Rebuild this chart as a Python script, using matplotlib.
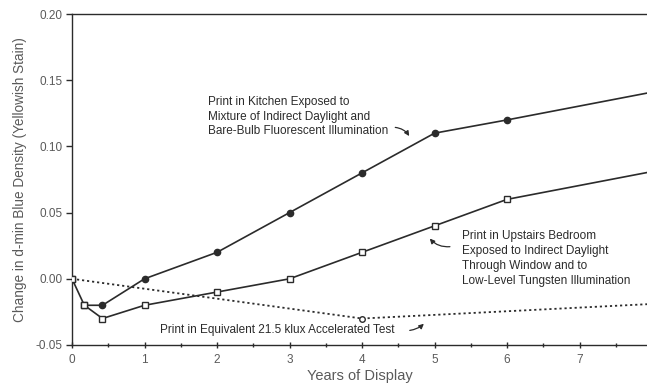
import matplotlib
matplotlib.use("Agg")
import matplotlib.pyplot as plt
from matplotlib.ticker import MultipleLocator

plt.rcParams['font.family'] = ['Liberation Sans', 'DejaVu Sans']

# Kitchen print (mixed daylight + bare-bulb fluorescent)
kitchen_years = [0.17, 0.42, 1, 2, 3, 4, 5, 6, 8]
kitchen_vals = [-0.02, -0.02, 0.00, 0.02, 0.05, 0.08, 0.11, 0.12, 0.141]

# Upstairs bedroom print (indirect daylight + low-level tungsten)
bedroom_years = [0, 0.17, 0.42, 1, 2, 3, 4, 5, 6, 8]
bedroom_vals = [0.00, -0.02, -0.03, -0.02, -0.01, 0.00, 0.02, 0.04, 0.06, 0.081]

# Accelerated 21.5 klux test equivalent
accel_years = [0, 4, 8]
accel_vals = [0.00, -0.03, -0.019]

x_ticks = [0, 1, 2, 3, 4, 5, 6, 7]
y_ticks = [-0.05, 0.00, 0.05, 0.10, 0.15, 0.20]

ink = '#2b2b2b'
txt = '#5a5a5a'

fig = plt.figure(figsize=(6.47, 3.85), dpi=100)
ax = fig.add_axes([0.1113, 0.1039, 0.8887, 0.8597])

ax.plot(accel_years, accel_vals, ls=(0, (1.2, 1.6)), lw=1.3, color=ink, zorder=2)
ax.plot([accel_years[1]], [accel_vals[1]], 'o', ms=4, mfc='white', mec=ink, mew=1.0, zorder=3)

ax.plot(bedroom_years, bedroom_vals, '-s', color=ink, lw=1.2, ms=5, mfc='white', mec=ink, mew=1.0, zorder=3)

ax.plot([bedroom_years[1]] + kitchen_years, [bedroom_vals[1]] + kitchen_vals, '-', color=ink, lw=1.2, zorder=3)
ax.plot(kitchen_years[1:], kitchen_vals[1:], 'o', color=ink, ms=4.5, zorder=4)
ax.plot([bedroom_years[0], bedroom_years[1]], [bedroom_vals[0], bedroom_vals[1]], 's', ms=5, mfc='white', mec=ink, mew=1.0, zorder=5)

ax.set_xlim(0, 7.93)
ax.set_ylim(-0.05, 0.20)
ax.set_xticks(x_ticks)
ax.set_yticks(y_ticks)
ax.set_yticklabels([f"{v:.2f}" for v in y_ticks])
ax.xaxis.set_minor_locator(MultipleLocator(0.5))

ax.spines['right'].set_visible(False)
for side in ['left', 'bottom', 'top']:
    ax.spines[side].set_color(ink)
    ax.spines[side].set_linewidth(1.0)

ax.tick_params(axis='x', which='major', direction='inout', length=5, width=1, colors=ink, labelcolor=txt, labelsize=8.5, pad=4)
ax.tick_params(axis='x', which='minor', direction='inout', length=3, width=1, colors=ink)
ax.tick_params(axis='y', which='major', direction='out', length=4, width=1, colors=ink, labelcolor=txt, labelsize=8.5, pad=3)

ax.set_xlabel('Years of Display', fontsize=10.5, color=txt, labelpad=2)
ax.set_ylabel('Change in d-min Blue Density (Yellowish Stain)', fontsize=9.8, color=txt, labelpad=6)

lab_fs = 8.5
ax.text(1.88, 0.138, 'Print in Kitchen Exposed to\nMixture of Indirect Daylight and\nBare-Bulb Fluorescent Illumination',
        fontsize=lab_fs, color=ink, va='top', ha='left', linespacing=1.3)
ax.annotate('', xy=(4.67, 0.106), xytext=(4.42, 0.1145),
            arrowprops=dict(arrowstyle='-|>', mutation_scale=7, color=ink, lw=0.9,
                            connectionstyle='arc3,rad=-0.3'))

ax.text(5.38, 0.0365, 'Print in Upstairs Bedroom\nExposed to Indirect Daylight\nThrough Window and to\nLow-Level Tungsten Illumination',
        fontsize=lab_fs, color=ink, va='top', ha='left', linespacing=1.3)
ax.annotate('', xy=(4.91, 0.032), xytext=(5.25, 0.0245),
            arrowprops=dict(arrowstyle='-|>', mutation_scale=7, color=ink, lw=0.9,
                            connectionstyle='arc3,rad=-0.3'))

ax.text(1.21, -0.0385, 'Print in Equivalent 21.5 klux Accelerated Test',
        fontsize=lab_fs, color=ink, va='center', ha='left')
ax.annotate('', xy=(4.88, -0.0325), xytext=(4.62, -0.0392),
            arrowprops=dict(arrowstyle='-|>', mutation_scale=7, color=ink, lw=0.9,
                            connectionstyle='arc3,rad=0.2'))

fig.savefig('out.png', dpi=100)
